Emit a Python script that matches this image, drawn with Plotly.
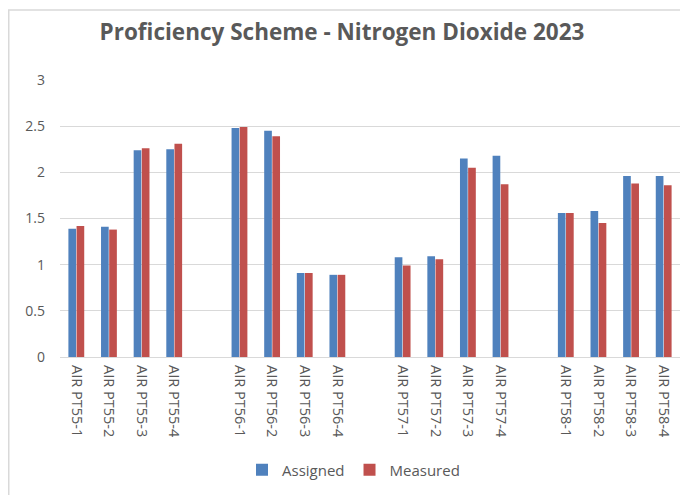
import plotly.graph_objects as go

categories = ["AIR PT55-1", "AIR PT55-2", "AIR PT55-3", "AIR PT55-4", " ",
              "AIR PT56-1", "AIR PT56-2", "AIR PT56-3", "AIR PT56-4", "  ",
              "AIR PT57-1", "AIR PT57-2", "AIR PT57-3", "AIR PT57-4", "   ",
              "AIR PT58-1", "AIR PT58-2", "AIR PT58-3", "AIR PT58-4"]
assigned = [1.39, 1.41, 2.24, 2.25, None,
            2.48, 2.45, 0.91, 0.89, None,
            1.08, 1.09, 2.15, 2.18, None,
            1.56, 1.58, 1.96, 1.96]
measured = [1.42, 1.38, 2.26, 2.31, None,
            2.49, 2.39, 0.91, 0.89, None,
            0.99, 1.06, 2.05, 1.87, None,
            1.56, 1.45, 1.88, 1.86]
y_ticks = [0, 0.5, 1, 1.5, 2, 2.5, 3]

BLUE = "#4F81BD"
RED = "#C0504D"
GREY = "#595959"

fig = go.Figure()
fig.add_trace(go.Bar(x=categories, y=assigned, name="Assigned",
                     marker=dict(color=BLUE, line=dict(width=0))))
fig.add_trace(go.Bar(x=categories, y=measured, name="Measured",
                     marker=dict(color=RED, line=dict(width=0))))

font_family = "Open Sans, Liberation Sans, sans-serif"

# page body has an 8px default margin, so the figure is laid out 8px smaller
W, H = 680, 487
L, R, T, B = 52, 8, 72, 138
PW, PH = W - L - R, H - T - B

fig.update_layout(
    width=W, height=H,
    margin=dict(l=L, r=R, t=T, b=B, autoexpand=False),
    paper_bgcolor="white", plot_bgcolor="white",
    barmode="group", bargap=0.5, bargroupgap=0.06,
    title=dict(text="<b>Proficiency Scheme - Nitrogen Dioxide 2023</b>",
               x=(342 - 8 - L) / PW, xref="paper", xanchor="center",
               y=1 - 24 / H, yanchor="middle",
               font=dict(family=font_family, size=22.5, color=GREY)),
    font=dict(family=font_family, size=12, color=GREY),
    showlegend=True,
    legend=dict(orientation="h", x=(242 - 8 - L) / PW, xanchor="left",
                y=(PH - (462 - T)) / PH, yanchor="middle",
                font=dict(size=15, color=GREY), itemwidth=30,
                traceorder="normal"),
    xaxis=dict(type="category", categoryorder="array", categoryarray=categories,
               tickangle=90, showgrid=False, showline=False, ticks="",
               ticklabelstandoff=7,
               tickfont=dict(size=14.5, color=GREY), range=[-0.5, len(categories) - 0.5]),
    yaxis=dict(range=[0, 3], tickvals=y_ticks, ticktext=[str(v) for v in y_ticks],
               showgrid=True, gridcolor="#D9D9D9", gridwidth=1,
               zeroline=True, zerolinecolor="#D9D9D9", zerolinewidth=1,
               showline=False, ticks="", ticklabelstandoff=14,
               tickfont=dict(size=14, color=GREY)),
    shapes=[dict(type="rect", xref="paper", yref="paper",
                 x0=(0.75 - L) / PW, x1=1.2, y0=-1.0, y1=1 + (T - 2) / PH,
                 line=dict(color="#D9D9D9", width=1.5), fillcolor="rgba(0,0,0,0)",
                 layer="below")],
)

fig.write_html("out.html")
